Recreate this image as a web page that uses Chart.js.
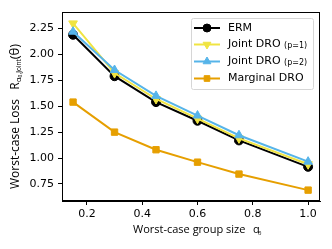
<!DOCTYPE html>
<html>
<head>
<meta charset="utf-8">
<script src="https://cdn.jsdelivr.net/npm/chart.js@4.4.0/dist/chart.umd.min.js"></script>
<style>
  body { margin: 0; background: #fff; }
  #wrap { width: 332px; height: 249px; position: relative; }
</style>
</head>
<body>
<div id="wrap"><canvas id="lossChart"></canvas></div>
<script>
// group sizes alpha_0
const groupSizes = [0.15, 0.3, 0.45, 0.6, 0.75, 1.0];
const ermLoss = [2.19, 1.79, 1.54, 1.36, 1.17, 0.915];
const jointP1Loss = [2.30, 1.82, 1.57, 1.38, 1.19, 0.94];
const jointP2Loss = [2.22, 1.85, 1.60, 1.41, 1.22, 0.965];
const marginalLoss = [1.54, 1.25, 1.08, 0.96, 0.845, 0.69];
const xTicks = [0.2, 0.4, 0.6, 0.8, 1.0];
const yTicks = [0.75, 1.00, 1.25, 1.50, 1.75, 2.00, 2.25];

const pts = ys => groupSizes.map((x, i) => ({ x: x, y: ys[i] }));

const series = [
  { label: 'ERM', sub: '', data: ermLoss, color: '#000000', style: 'circle', rot: 0, r: 4.5, order: 4 },
  { label: 'Joint DRO', sub: '(p=1)', data: jointP1Loss, color: '#F0E442', style: 'triangle', rot: 180, r: 5, order: 3 },
  { label: 'Joint DRO', sub: '(p=2)', data: jointP2Loss, color: '#56B4E9', style: 'triangle', rot: 0, r: 5, order: 2 },
  { label: 'Marginal DRO', sub: '', data: marginalLoss, color: '#E69F00', style: 'rect', rot: 0, r: 4.5, order: 1 }
];

const FONT = '"Open Sans", sans-serif';

function drawMarker(ctx, s, x, y, r) {
  ctx.save();
  ctx.fillStyle = s.color;
  ctx.strokeStyle = s.color;
  ctx.lineWidth = 1;
  Chart.helpers.drawPoint(ctx, { pointStyle: s.style, radius: r, rotation: s.rot, borderWidth: 1 }, x, y);
  ctx.restore();
}

// frame, axis titles and matplotlib-like legend
const extras = {
  id: 'extras',
  afterDraw(chart) {
    const ctx = chart.ctx;
    const a = chart.chartArea;
    ctx.save();
    ctx.strokeStyle = '#000';
    ctx.lineWidth = 1;
    ctx.strokeRect(a.left + 0.5, a.top + 0.5, a.right - a.left - 1, a.bottom - a.top - 1);

    // x title
    ctx.fillStyle = '#000';
    ctx.textBaseline = 'alphabetic';
    ctx.font = '11px ' + FONT;
    ctx.fillText('Worst-case group size', 133, 233);
    ctx.fillText('α', 253, 233);
    ctx.font = '6px ' + FONT;
    ctx.fillText('0', 253 + ctx.measureText('0').width + 1.5, 235);

    // y title, rotated
    ctx.save();
    ctx.translate(19, 0);
    ctx.rotate(-Math.PI / 2);
    const parts = [
      { t: 'Worst-case Loss', f: 12, dy: 0 },
      { t: '   R', f: 12, dy: 0 },
      { t: 'α', f: 8, dy: 2 },
      { t: '0', f: 5, dy: 3 },
      { t: ',Joint', f: 6.5, dy: 2 },
      { t: '(θ)', f: 13, dy: 0 }
    ];
    let px = -189;
    parts.forEach(p => {
      ctx.font = p.f + 'px ' + FONT;
      ctx.fillText(p.t, px, p.dy);
      px += ctx.measureText(p.t).width;
    });
    ctx.restore();

    // legend
    const lx = 191, ly = 18, lw = 122, lh = 71;
    ctx.fillStyle = 'rgba(255,255,255,0.85)';
    ctx.strokeStyle = '#d6d6d6';
    ctx.lineWidth = 1;
    ctx.beginPath();
    ctx.roundRect(lx + 0.5, ly + 0.5, lw, lh, 2);
    ctx.fill();
    ctx.stroke();
    const rows = [27.5, 44, 61, 78];
    series.forEach((s, i) => {
      const y = rows[i] + 0.5;
      ctx.strokeStyle = s.color;
      ctx.lineWidth = 2;
      ctx.beginPath();
      ctx.moveTo(194, y);
      ctx.lineTo(220, y);
      ctx.stroke();
      drawMarker(ctx, s, 207, y, s.r - 0.5);
      ctx.fillStyle = '#000';
      ctx.font = '11px "DejaVu Sans", sans-serif';
      ctx.textBaseline = 'middle';
      ctx.fillText(s.label, 228, y);
      if (s.sub) {
        const w = ctx.measureText(s.label + ' ').width;
        ctx.font = '8px "DejaVu Sans", sans-serif';
        ctx.fillText(s.sub, 228 + w, y + 1);
      }
    });
    ctx.restore();
  }
};

new Chart(document.getElementById('lossChart'), {
  type: 'line',
  data: {
    datasets: series.map(s => ({
      label: s.label + (s.sub ? ' ' + s.sub : ''),
      data: pts(s.data),
      borderColor: s.color,
      backgroundColor: s.color,
      pointBackgroundColor: s.color,
      pointBorderColor: s.color,
      pointStyle: s.style,
      pointRotation: s.rot,
      pointRadius: s.r,
      pointBorderWidth: 1,
      borderWidth: 2,
      tension: 0,
      order: s.order,
      clip: false
    }))
  },
  options: {
    responsive: true,
    maintainAspectRatio: false,
    animation: false,
    layout: { padding: { left: 0, top: 12, right: 12, bottom: 0 } },
    plugins: { legend: { display: false }, tooltip: { enabled: false } },
    scales: {
      x: {
        type: 'linear',
        min: 0.11,
        max: 1.043,
        afterBuildTicks: sc => { sc.ticks = xTicks.map(v => ({ value: v })); },
        afterFit: sc => { sc.height = 48; },
        grid: { display: true, drawOnChartArea: false, drawTicks: true, tickLength: 4, color: '#000' },
        border: { display: true, color: '#000', width: 1 },
        ticks: {
          color: '#000', padding: 3, maxRotation: 0,
          font: { family: '"DejaVu Sans", sans-serif', size: 11 },
          callback: v => v.toFixed(1)
        }
      },
      y: {
        type: 'linear',
        min: 0.585,
        max: 2.41,
        afterBuildTicks: sc => { sc.ticks = yTicks.map(v => ({ value: v })); },
        afterFit: sc => { sc.width = 62; },
        grid: { display: true, drawOnChartArea: false, drawTicks: true, tickLength: 4, color: '#000' },
        border: { display: true, color: '#000', width: 1 },
        ticks: {
          color: '#000', padding: 4,
          font: { family: '"DejaVu Sans", sans-serif', size: 11 },
          callback: v => v.toFixed(2)
        }
      }
    }
  },
  plugins: [extras]
});
</script>
</body>
</html>
